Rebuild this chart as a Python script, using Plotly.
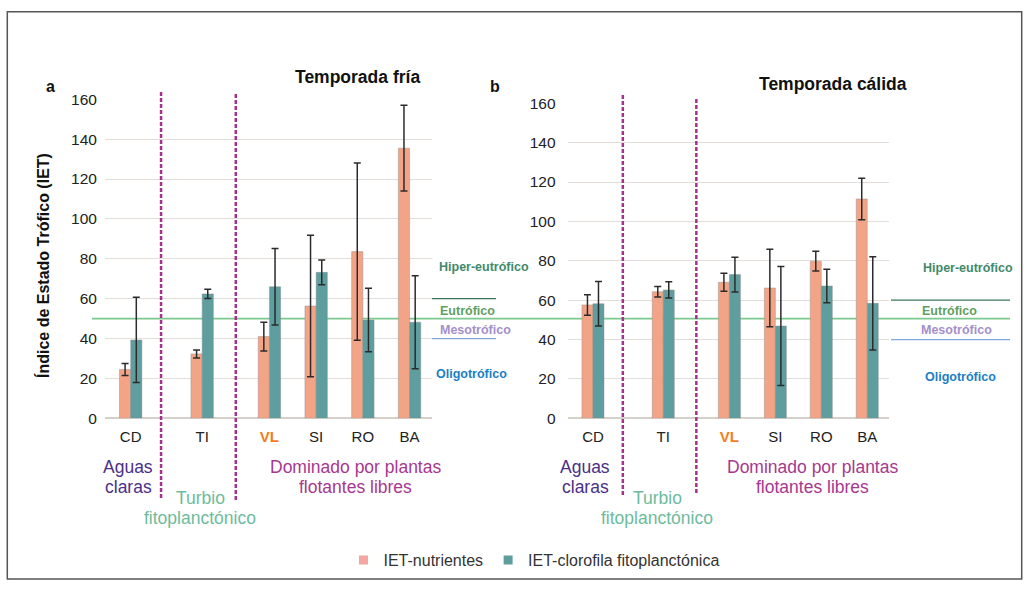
import plotly.graph_objects as go

W, H = 1031, 590

# ---------------- data ----------------
categories = ["CD", "TI", "VL", "SI", "RO", "BA"]
x_pos = [0.55, 2.08, 3.52, 4.52, 5.52, 6.52]      # category slot positions
group_dividers = [1.2, 2.8]

cold_nutr = [24.5, 32.3, 41.0, 56.3, 83.6, 135.5]
cold_nutr_err = [3.0, 2.0, 7.2, 35.5, 44.4, 21.5]
cold_chl = [39.3, 62.4, 66.0, 73.2, 49.3, 48.2]
cold_chl_err = [21.4, 2.3, 19.2, 6.2, 15.9, 23.3]

warm_nutr = [57.6, 64.3, 69.1, 66.2, 79.8, 111.4]
warm_nutr_err = [5.2, 2.7, 4.6, 19.7, 5.0, 10.5]
warm_chl = [58.2, 65.2, 73.0, 46.9, 67.2, 58.4]
warm_chl_err = [11.3, 4.1, 8.8, 30.2, 8.5, 23.7]

y_ticks = [0, 20, 40, 60, 80, 100, 120, 140, 160]
trophic_limits = {"Hiper": 60, "Eu": 50, "Meso": 40}
trophic_labels = ["Hiper-eutrófico", "Eutrófico", "Mesotrófico", "Oligotrófico"]
group_labels = [["Aguas", "claras"], ["Turbio", "fitoplanctónico"],
                ["Dominado por plantas", "flotantes libres"]]
series_names = ["IET-nutrientes", "IET-clorofila fitoplanctónica"]

# ---------------- style ----------------
SALMON = "#f4a486"
TEAL = "#5e9e9e"
FONT = "Liberation Sans, Arial, sans-serif"
NARROW = "Liberation Sans Narrow, Arial Narrow, Liberation Sans, sans-serif"
BW = 0.24


def px(x):
    return x / W


def py(y):
    return 1 - y / H


tick_text = [f"<b><span style='color:#f47c20'>{c}</span></b>" if c == "VL" else c
             for c in categories]

fig = go.Figure()


def add_bars(xa, ya, nutr, nerr, chl, cerr):
    fig.add_trace(go.Bar(
        x=x_pos, y=nutr, width=BW, offset=-BW, name=series_names[0],
        marker=dict(color=SALMON, line=dict(color="rgba(140,140,140,0.55)", width=0.8)),
        error_y=dict(type="data", array=nerr, color="#2b2b2b", thickness=1.5, width=3.5),
        xaxis=xa, yaxis=ya, showlegend=False))
    fig.add_trace(go.Bar(
        x=x_pos, y=chl, width=BW, offset=0, name=series_names[1],
        marker=dict(color=TEAL, line=dict(color="rgba(140,140,140,0.55)", width=0.8)),
        error_y=dict(type="data", array=cerr, color="#2b2b2b", thickness=1.5, width=3.5),
        xaxis=xa, yaxis=ya, showlegend=False))


add_bars("x", "y", cold_nutr, cold_nutr_err, cold_chl, cold_chl_err)
add_bars("x2", "y2", warm_nutr, warm_nutr_err, warm_chl, warm_chl_err)

# legend entries (small square swatches)
for name, col in zip(series_names, ["#f3a7a0", TEAL]):
    fig.add_trace(go.Scatter(x=[None], y=[None], mode="markers", name=name,
                             marker=dict(symbol="square", size=9, color=col),
                             showlegend=True))

xax = dict(range=[0, 7], tickvals=x_pos, ticktext=tick_text, showgrid=False,
           zeroline=False, showline=False, ticks="outside", ticklen=5,
           tickcolor="rgba(0,0,0,0)", tickfont=dict(family=FONT, size=15, color="#222"),
           fixedrange=True, automargin=False)
yax = dict(range=[0, 160], tickvals=y_ticks, showgrid=True, gridcolor="#e2ddd9",
           gridwidth=1.3, zeroline=True, zerolinecolor="#d6d0cb", zerolinewidth=1.5,
           showline=False, ticks="outside", tickcolor="rgba(0,0,0,0)",
           tickfont=dict(family=FONT, size=15.5, color="#222"), fixedrange=True,
           automargin=False)

fig.update_layout(
    width=W, height=H, autosize=False,
    margin=dict(l=0, r=0, t=0, b=0, pad=0, autoexpand=False),
    paper_bgcolor="white", plot_bgcolor="rgba(0,0,0,0)",
    barmode="overlay",
    xaxis=dict(xax, domain=[px(105), px(432)], anchor="y"),
    yaxis=dict(yax, domain=[py(418.3), py(99.3)], anchor="x", ticklen=4),
    xaxis2=dict(xax, domain=[px(567.7), px(889.3)], anchor="y2"),
    yaxis2=dict(yax, domain=[py(418.3), py(103.3)], anchor="x2", ticklen=8),
    legend=dict(orientation="h", x=px(534), xanchor="center", y=py(560), yanchor="middle",
                font=dict(family=FONT, size=16, color="#333"), itemwidth=30,
                traceorder="normal"),
    font=dict(family=FONT),
)

shapes = []
# frame
shapes.append(dict(type="rect", xref="paper", yref="paper", x0=px(7.3), x1=px(1021.7),
                   y0=py(579), y1=py(11.7), line=dict(color="#555", width=1.5),
                   layer="below"))
# group dividers
div_extent = {"x": [(92, 498), (93, 500)], "x2": [(95, 495), (99, 493)]}
for xr in ["x", "x2"]:
    for d, (ytop, ybot) in zip(group_dividers, div_extent[xr]):
        shapes.append(dict(type="line", xref=xr, yref="paper", x0=d, x1=d,
                           y0=py(ybot), y1=py(ytop),
                           line=dict(color="#a4318e", width=2.5, dash="4px,2px")))
# eutrophic boundary (50) spanning both panels
shapes.append(dict(type="line", xref="paper", yref="y", x0=px(92), x1=px(1010),
                   y0=trophic_limits["Eu"], y1=trophic_limits["Eu"],
                   line=dict(color="#7cc98f", width=1.6), layer="below"))
# hyper (60) and meso (40) boundaries at panel sides
for yr, (xa0, xa1) in [("y", (432, 496)), ("y2", (891, 1010))]:
    shapes.append(dict(type="line", xref="paper", yref=yr, x0=px(xa0), x1=px(xa1),
                       y0=trophic_limits["Hiper"], y1=trophic_limits["Hiper"],
                       line=dict(color="#3c7659", width=1.3)))
    shapes.append(dict(type="line", xref="paper", yref=yr, x0=px(xa0), x1=px(xa1),
                       y0=trophic_limits["Meso"], y1=trophic_limits["Meso"],
                       line=dict(color="#7fa8d8", width=1.3)))
fig.update_layout(shapes=shapes)

ann = []


def text(x, y, s, size, color, bold=False, family=FONT, xanchor="center", angle=0):
    ann.append(dict(x=px(x), y=py(y), xref="paper", yref="paper", showarrow=False,
                    text=f"<b>{s}</b>" if bold else s, xanchor=xanchor, yanchor="middle",
                    textangle=angle, font=dict(family=family, size=size, color=color)))


# titles and panel letters
text(357, 77, "Temporada fría", 17.5, "#111", bold=True)
text(833, 84, "Temporada cálida", 17.5, "#111", bold=True)
text(50, 86, "a", 16, "#111", bold=True)
text(495, 86, "b", 16, "#111", bold=True)
text(43, 266, "Índice de Estado Trófico (IET)", 16, "#111", bold=True, angle=-90)

# trophic labels
tro_cols = ["#3f8a6b", "#5f9f63", "#a48fcb", "#1a80c6"]
left_tro = [(437, 267), (438, 311), (438, 330), (434, 374)]
right_tro = [(921, 268), (920, 311), (919, 330), (923, 377)]
for lab, col, (lx, ly), (rx, ry) in zip(trophic_labels, tro_cols, left_tro, right_tro):
    text(lx, ly, lab, 12.5, col, bold=True, family=NARROW, xanchor="left")
    text(rx, ry, lab, 12.5, col, bold=True, family=NARROW, xanchor="left")

# group labels
grp_cols = ["#4b3088", "#6dbb9c", "#a6388f"]
grp_y = [(467, 487), (498, 518), (467, 487)]
left_cx = [128, 200, 355]
right_cx = [585, 657, 812]
for lines, col, (y1, y2), lcx, rcx in zip(group_labels, grp_cols, grp_y, left_cx, right_cx):
    for cx in (lcx, rcx):
        text(cx, y1, lines[0], 17.5, col)
        text(cx, y2, lines[1], 17.5, col)

fig.update_layout(annotations=ann)

fig.write_html("out.html")
